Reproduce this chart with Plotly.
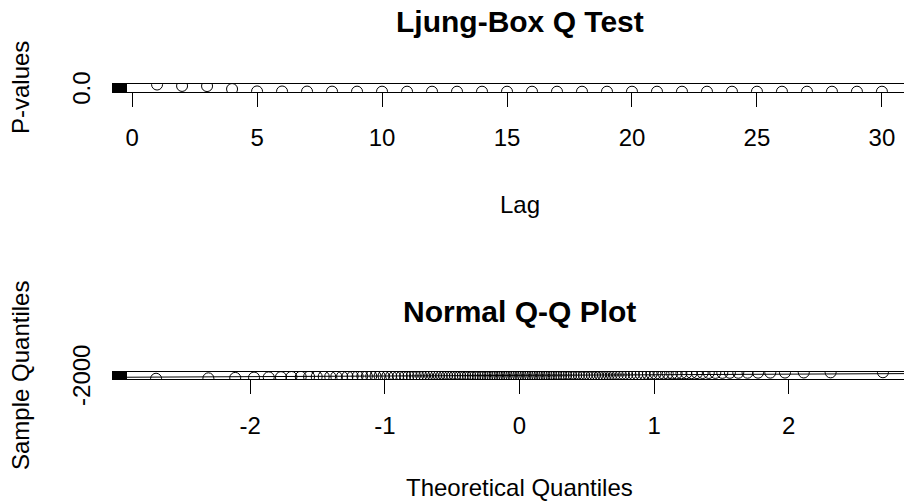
import numpy as np
import plotly.graph_objects as go
from statistics import NormalDist

# ---------------- data ----------------
lags = list(range(1, 31))
p_values = [0.97, 0.78, 0.76, 0.36, 0.04, 0.03, 0.02, 0.012, 0.008, 0.005,
            0.003, 0.002, 0.0015, 0.001, 0.0008, 0.0006, 0.0004, 0.0003, 0.0002, 0.0002,
            0.0001, 0.0001, 0.0001, 0.0, 0.0, 0.0, 0.0, 0.0, 0.0, 0.0]
lag_ticks = [0, 5, 10, 15, 20, 25, 30]
p_ticks = [0.0, 0.2, 0.4, 0.6, 0.8, 1.0]
p_tick_labels = ["0.0", "", "", "", "", ""]

sample_quantiles = [
    -1950, -1680, -1420, -1230, -1080, -950, -850, -770, -700, -640,
    -590, -545, -505, -470, -440, -410, -385, -360, -340, -320,
    -300, -283, -267, -252, -238, -225, -212, -200, -189, -178,
    -168, -158, -149, -140, -132, -124, -117, -110, -103, -97,
    -91, -85, -80, -75, -70, -65, -60, -56, -52, -48,
    -44, -40, -36, -33, -30, -27, -24, -21, -18, -15,
    -12, -9, -6, -3, 0, 3, 6, 9, 12, 15,
    18, 21, 24, 28, 32, 36, 40, 44, 48, 53,
    58, 63, 68, 74, 80, 86, 93, 100, 108, 116,
    125, 134, 144, 155, 166, 178, 191, 205, 220, 236,
    253, 271, 290, 310, 332, 355, 380, 406, 434, 464,
    496, 530, 566, 604, 644, 690, 740, 800, 870, 950,
    1030, 1110, 1190, 1260, 1320, 1380, 1430, 1480, 1520, 1560,
    1600, 1640, 1680, 1710, 1740, 1770, 1800, 1830, 1860, 1890,
    1930, 1980, 2040, 2110,
]
q_ticks = [-2, -1, 0, 1, 2]
q_tick_labels = ["-2", "-1", "0", "1", "2"]
s_ticks = [-2000, -1000, 0, 1000, 2000]
s_tick_labels = ["-2000", "", "", "", ""]

# ---------------- derived quantities ----------------
n = len(sample_quantiles)
nd = NormalDist()
theoretical = [nd.inv_cdf((i - 0.5) / n) for i in range(1, n + 1)]

# reference line through the quartiles
sq = np.array(sample_quantiles, dtype=float)
q1, q3 = np.quantile(sq, [0.25, 0.75])
z1, z3 = nd.inv_cdf(0.25), nd.inv_cdf(0.75)
slope = (q3 - q1) / (z3 - z1)
intercept = q1 - slope * z1


def padded(lo, hi, frac=0.04):
    s = hi - lo
    return lo - frac * s, hi + frac * s


# ---------------- geometry (pixels) ----------------
W, H = 904, 502
LEFT = 127
FULL_W = 785          # full width of the plotting region
VIS_W = W - LEFT      # part of it shown on the page


def visible_range(lo, hi):
    a, b = padded(lo, hi)
    return [a, a + (b - a) * VIS_W / FULL_W]


def ydom(top_px, bot_px):
    return [1 - bot_px / H, 1 - top_px / H]


def px(x):
    return (x - LEFT) / VIS_W


def py(y):
    return 1 - y / H


FONT = "Liberation Sans, Arial, sans-serif"
TICK_SIZE = 24
TITLE_SIZE = 30

fig = go.Figure()

marker = dict(symbol="circle-open", size=11, color="black", line=dict(width=1, color="black"))

fig.add_trace(go.Scatter(x=lags, y=p_values, mode="markers", marker=marker,
                         xaxis="x", yaxis="y", cliponaxis=True, showlegend=False))

fig.add_trace(go.Scatter(x=theoretical, y=sample_quantiles, mode="markers", marker=marker,
                         xaxis="x2", yaxis="y2", cliponaxis=True, showlegend=False))

xr2 = visible_range(min(theoretical), max(theoretical))
line_x = [xr2[0] - 1, xr2[1] + 1]
fig.add_trace(go.Scatter(x=line_x, y=[intercept + slope * v for v in line_x], mode="lines",
                         line=dict(color="black", width=1), xaxis="x2", yaxis="y2",
                         showlegend=False, hoverinfo="skip"))

axis_common = dict(showgrid=False, zeroline=False, showline=True, linecolor="black", linewidth=1,
                   ticks="outside", ticklen=14, tickwidth=1, tickcolor="black", automargin=False,
                   tickfont=dict(family=FONT, size=TICK_SIZE, color="black"))

fig.update_layout(
    width=W, height=H,
    margin=dict(l=LEFT, r=0, t=0, b=0, autoexpand=False),
    paper_bgcolor="white", plot_bgcolor="white",
    xaxis=dict(domain=[0, 1], range=visible_range(0.96, 30.04), anchor="y",
               tickvals=lag_ticks, ticktext=[str(v) for v in lag_ticks], mirror=True,
               ticklabelstandoff=10, **axis_common),
    yaxis=dict(domain=ydom(84, 92), range=list(padded(0, 1)), anchor="x",
               tickvals=p_ticks, ticktext=p_tick_labels, tickangle=-90,
               ticklabelstandoff=12, **{**axis_common, "tickwidth": 2}),
    xaxis2=dict(domain=[0, 1], range=xr2, anchor="y2",
                tickvals=q_ticks, ticktext=q_tick_labels, mirror=True,
                ticklabelstandoff=11, **axis_common),
    yaxis2=dict(domain=ydom(372, 379), range=list(padded(min(sample_quantiles), max(sample_quantiles))),
                anchor="x2", tickvals=s_ticks, ticktext=s_tick_labels, tickangle=-90,
                ticklabelstandoff=12, **{**axis_common, "tickwidth": 2}),
)


def label(text, x, y, size=TICK_SIZE, bold=False, angle=0):
    fig.add_annotation(text=f"<b>{text}</b>" if bold else text, xref="paper", yref="paper",
                       x=px(x), y=py(y), xanchor="center", yanchor="middle", showarrow=False,
                       textangle=angle, font=dict(family=FONT, size=size, color="black"))


CENTER = LEFT + FULL_W / 2
label("Ljung-Box Q Test", CENTER, 22, size=TITLE_SIZE, bold=True)
label("Lag", CENTER, 204)
label("P-values", 20, 88, angle=-90)
label("Normal Q-Q Plot", CENTER, 311, size=TITLE_SIZE, bold=True)
label("Theoretical Quantiles", CENTER, 487)
label("Sample Quantiles", 20, 376, angle=-90)

fig.write_html("out.html")
